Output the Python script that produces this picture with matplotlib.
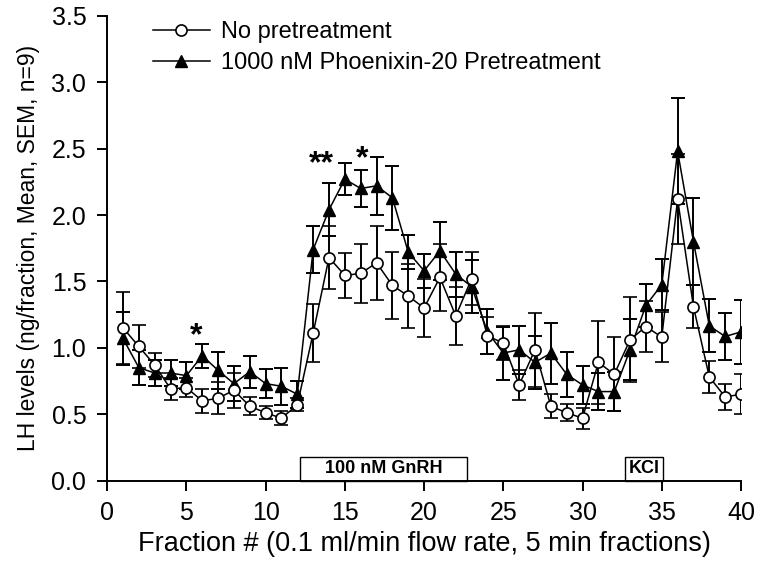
import numpy as np
import matplotlib
matplotlib.use("Agg")
import matplotlib.pyplot as plt
from matplotlib.patches import Rectangle

plt.rcParams['font.family'] = ['Liberation Sans', 'DejaVu Sans']

fraction = np.arange(1, 41)

# LH, no pretreatment (mean, SEM)
ctrl_mean = [1.15, 1.01, 0.87, 0.69, 0.70, 0.60, 0.62, 0.68, 0.56, 0.51,
             0.47, 0.57, 1.11, 1.68, 1.545, 1.56, 1.64, 1.47, 1.39, 1.30,
             1.53, 1.24, 1.52, 1.09, 1.035, 0.72, 0.985, 0.56, 0.51, 0.47,
             0.89, 0.80, 1.06, 1.16, 1.08, 2.12, 1.31, 0.78, 0.63, 0.65]
ctrl_sem = [0.27, 0.16, 0.09, 0.085, 0.07, 0.09, 0.12, 0.13, 0.07, 0.05,
            0.055, 0.05, 0.22, 0.24, 0.17, 0.22, 0.28, 0.25, 0.24, 0.22,
            0.25, 0.22, 0.20, 0.14, 0.13, 0.11, 0.28, 0.09, 0.065, 0.08,
            0.31, 0.28, 0.32, 0.19, 0.19, 0.34, 0.16, 0.12, 0.10, 0.15]

# LH, 1000 nM phoenixin-20 pretreatment (mean, SEM)
pnx_mean = [1.07, 0.85, 0.81, 0.81, 0.79, 0.94, 0.83, 0.73, 0.82, 0.73,
            0.71, 0.65, 1.74, 2.04, 2.27, 2.20, 2.22, 2.13, 1.72, 1.58,
            1.73, 1.555, 1.46, 1.12, 0.96, 0.985, 0.89, 0.96, 0.80, 0.72,
            0.67, 0.67, 0.985, 1.32, 1.475, 2.48, 1.80, 1.165, 1.085, 1.12]
pnx_sem = [0.20, 0.13, 0.10, 0.10, 0.10, 0.09, 0.14, 0.13, 0.12, 0.11,
           0.14, 0.10, 0.18, 0.20, 0.12, 0.14, 0.22, 0.24, 0.13, 0.13,
           0.22, 0.17, 0.20, 0.17, 0.20, 0.18, 0.20, 0.23, 0.17, 0.14,
           0.14, 0.15, 0.23, 0.16, 0.19, 0.40, 0.33, 0.20, 0.18, 0.24]

labels = ['No pretreatment', '1000 nM Phoenixin-20 Pretreatment']

# significance marks: (x, y, text)
star_x = [5.6, 13.55, 16.1]
star_y = [1.17, 2.46, 2.50]
star_txt = ['*', '**', '*']

# treatment bars along the x axis: (start, end, label)
treat_start = [12.2, 32.7]
treat_end = [22.7, 35.1]
treat_label = ['100 nM GnRH', 'KCl']

fig = plt.figure(figsize=(7.6, 5.68), dpi=100)
ax = fig.add_axes([0.141, 0.154, 0.834, 0.818])

eb_kw = dict(color='black', lw=1.1, elinewidth=1.4, capsize=5, capthick=1.4)
h2 = ax.errorbar(fraction, pnx_mean, yerr=pnx_sem, marker='^', ms=8.5,
                 mfc='black', mec='black', zorder=3, **eb_kw)
h1 = ax.errorbar(fraction, ctrl_mean, yerr=ctrl_sem, marker='o', ms=8,
                 mfc='white', mec='black', mew=1.2, zorder=4, **eb_kw)

for x, y, t in zip(star_x, star_y, star_txt):
    ax.text(x, y - 0.14, t, ha='center', va='baseline', fontsize=23,
            fontweight='bold')

for s, e, lab in zip(treat_start, treat_end, treat_label):
    ax.add_patch(Rectangle((s, 0), e - s, 0.18, fill=False, ec='black',
                           lw=1.0, zorder=2, clip_on=False))
    ax.text((s + e) / 2, 0.09, lab, ha='center', va='center', fontsize=13,
            fontweight='bold')

ax.set_xlim(0, 40)
ax.set_ylim(0, 3.5)
ax.set_xticks(range(0, 41, 5))
ax.set_yticks(np.arange(0, 3.51, 0.5))
ax.yaxis.set_major_formatter(matplotlib.ticker.FormatStrFormatter('%.1f'))
ax.spines['top'].set_visible(False)
ax.spines['right'].set_visible(False)
for sp in ('left', 'bottom'):
    ax.spines[sp].set_linewidth(1.4)
ax.tick_params(direction='out', length=7, width=1.4, labelsize=18, pad=8)

ax.set_xlabel('Fraction # (0.1 ml/min flow rate, 5 min fractions)',
              fontsize=19.5, labelpad=4)
ax.set_ylabel('LH levels (ng/fraction, Mean, SEM, n=9)', fontsize=16.5,
              labelpad=8)

# legend shows only line + marker, no error bars
ax.legend([h1[0], h2[0]], labels, loc='upper left', frameon=False,
          fontsize=17, handlelength=2.4, handletextpad=0.5,
          borderaxespad=0.2, bbox_to_anchor=(0.05, 1.02), labelspacing=0.4)

fig.savefig('out.png', dpi=100)
